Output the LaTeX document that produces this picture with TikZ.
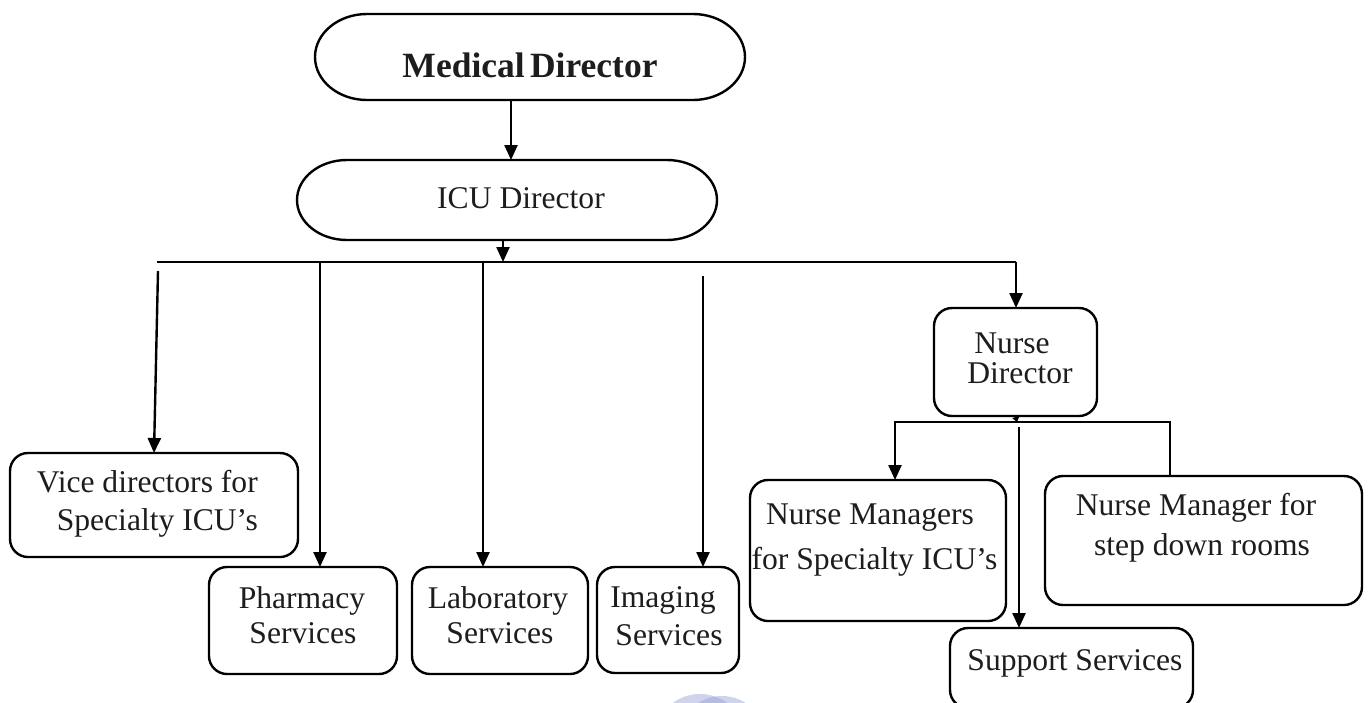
\documentclass[tikz,border=0pt]{standalone}
\usepackage{fontspec}
\setmainfont{Liberation Serif}
\usetikzlibrary{arrows.meta,calc}
\definecolor{ink}{RGB}{30,28,28}
\definecolor{wm}{RGB}{150,160,212}
\begin{document}
\begin{tikzpicture}[x=1pt,y=-1pt,
  box/.style={draw=black, line width=2.4pt, rounded corners=18pt, inner sep=0pt, outer sep=0pt},
  pill/.style={inner sep=0pt, outer sep=0pt},
  lbl/.style={anchor=base, inner sep=0pt, text=ink, font=\fontsize{31.6}{36}\selectfont},
  conn/.style={line width=2.4pt, draw=black},
  arr/.style={conn, -{Triangle[length=15pt,width=13pt]}},
  tinyarr/.style={conn, -{Triangle[length=5pt,width=7pt]}},
]
\useasboundingbox (0,0) rectangle (1368,702);
\fill[white] (0,0) rectangle (1368,702);
\clip (0,0) rectangle (1368,702);

% faint watermark
\fill[wm, opacity=0.45] (700,740) circle[radius=46];
\fill[wm, opacity=0.45] (722,740) circle[radius=44];

% top pills
\node[pill, minimum width=430pt, minimum height=86pt] (md) at (530,57) {};
\draw[conn] ([xshift=52pt]md.north west) -- ([xshift=-52pt]md.north east)
  arc[start angle=-90, end angle=90, x radius=52, y radius=43]
  -- ([xshift=52pt]md.south west)
  arc[start angle=90, end angle=270, x radius=52, y radius=43] -- cycle;
\node[anchor=base, inner sep=0pt, text=ink, font=\bfseries\fontsize{35.5}{40}\selectfont] (mdt) at (530,77) {Medical\hspace{0.15em}Director};

\node[pill, minimum width=420pt, minimum height=80pt] (icu) at (507,200) {};
\draw[conn] ([xshift=50pt]icu.north west) -- ([xshift=-50pt]icu.north east)
  arc[start angle=-90, end angle=90, x radius=50, y radius=40]
  -- ([xshift=50pt]icu.south west)
  arc[start angle=90, end angle=270, x radius=50, y radius=40] -- cycle;
\node[lbl] (icut) at (521,208) {ICU Director};

% boxes
\node[box, minimum width=288pt, minimum height=104pt] (vice) at (154,505) {};
\node[lbl, anchor=base east] (vice1) at (258,492) {Vice directors for};
\node[lbl, anchor=base east] (vice2) at (258,530) {Specialty ICU’s};

\node[box, minimum width=188pt, minimum height=107pt] (phar) at (303,620.5) {};
\node[lbl] (phar1) at (302,608) {Pharmacy};
\node[lbl] (phar2) at (303,643) {Services};

\node[box, minimum width=176pt, minimum height=107pt] (lab) at (500,620.5) {};
\node[lbl] (lab1) at (498,608) {Laboratory};
\node[lbl] (lab2) at (500,643) {Services};

\node[box, minimum width=142pt, minimum height=106pt] (img) at (668,620) {};
\node[lbl] (img1) at (663,607) {Imaging};
\node[lbl] (img2) at (669,645) {Services};

\node[box, minimum width=163pt, minimum height=108pt] (nd) at (1015.5,362) {};
\node[lbl] (nd1) at (1012,353) {Nurse};
\node[lbl] (nd2) at (1020,383) {Director};

\node[box, minimum width=256pt, minimum height=141pt] (nm) at (878,550.5) {};
\node[lbl] (nm1) at (870,524) {Nurse Managers};
\node[lbl] (nm2) at (874.5,569) {for Specialty ICU’s};

\node[box, minimum width=317pt, minimum height=129pt] (sd) at (1203.5,540.5) {};
\node[lbl] (sd1) at (1196,515) {Nurse Manager for};
\node[lbl] (sd2) at (1202,555) {step down rooms};

\node[box, minimum width=243pt, minimum height=80pt] (sup) at (1071.5,668) {};
\node[lbl] (sup1) at (1075,670) {Support Services};

% connectors
\coordinate (cmd) at (511,0);
\coordinate (cicu) at (503,0);
\coordinate (busL) at (157,262);
\coordinate (busR) at (1016,262);
\coordinate (vtop) at (158,271);
\coordinate (pb) at (320,262);
\coordinate (lb) at (483,262);
\coordinate (ib) at (703,276);
\coordinate (nb) at (1017,422);
\coordinate (bl) at (895,422);
\coordinate (br) at (1170,422);
\coordinate (nmid) at (1019,427);

\draw[arr] (md.south -| cmd) -- (icu.north -| cmd);
\draw[arr] (icu.south -| cicu) -- (busL -| cicu);
\draw[conn] (busL) -- (busR);
\draw[arr] (busR) -- (busR |- nd.north);
\draw[arr] (vtop) -- (vice.north);
\draw[arr] (pb) -- (pb |- phar.north);
\draw[arr] (lb) -- (lb |- lab.north);
\draw[arr] (ib) -- (ib |- img.north);
\draw[tinyarr] (nd.south) -- (nb);
\draw[arr] (br |- sd.north) -- (br) -- (bl) -- (bl |- nm.north);
\draw[arr] (nmid) -- (nmid |- sup.north);
\end{tikzpicture}
\end{document}
